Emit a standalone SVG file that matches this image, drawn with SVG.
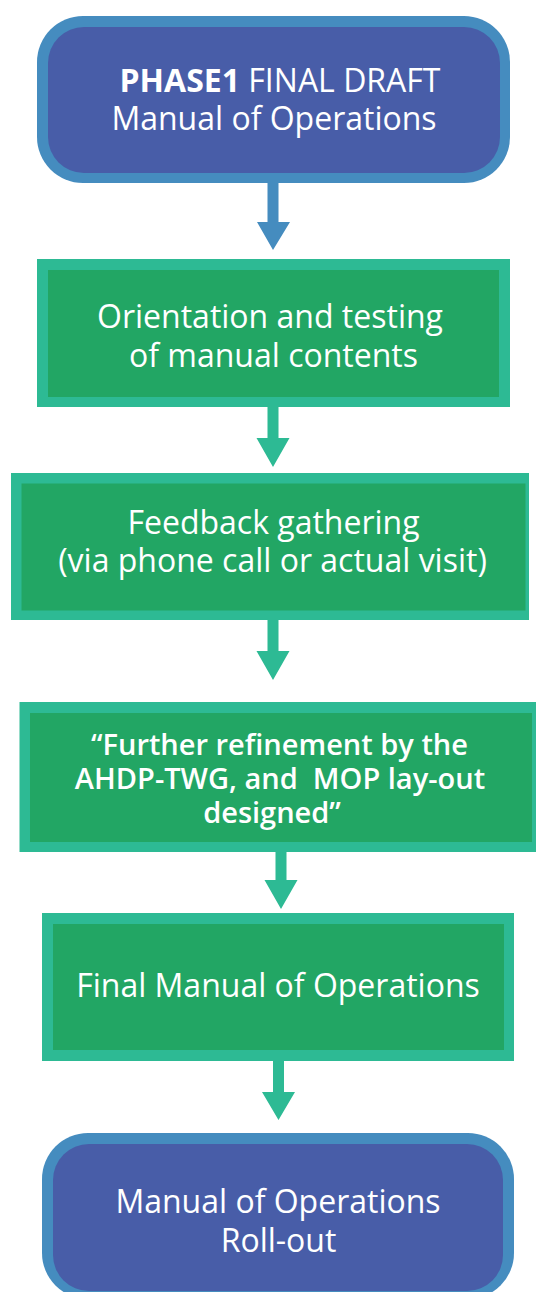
<svg xmlns="http://www.w3.org/2000/svg" width="536" height="1292" viewBox="0 0 536 1292">
<style>
.bord-b{fill:#458CBF}
.fill-b{fill:#485DA8}
.bord-g{fill:#2DBA94}
.fill-g{fill:#22A664}
.t{font-family:"Open Sans","Noto Sans","Liberation Sans",sans-serif;font-size:32px;fill:#FFFFFF;text-anchor:middle}
.tb{font-family:"Open Sans","Noto Sans","Liberation Sans",sans-serif;font-size:29px;font-weight:600;fill:#FFFFFF;text-anchor:middle}
.ab{fill:#458CBF}
.ag{fill:#2DBA94}
</style>
<rect width="536" height="1292" fill="#FFFFFF"/>
<g id="connectors">
<path class="ab" d="M267.5 183 H278.5 V222 H290 L273 250 L257 222 H267.5 Z"/>
<path class="ag" d="M267.5 407 H278.5 V438 H289.5 L273 467 L256.5 438 H267.5 Z"/>
<path class="ag" d="M267.5 619 H278.5 V651 H289.5 L273 680 L256.5 651 H267.5 Z"/>
<path class="ag" d="M275.5 851 H286.5 V880 H297.5 L281 909 L264.5 880 H275.5 Z"/>
<path class="ag" d="M273 1061 H284 V1092 H295 L278.5 1120 L262 1092 H273 Z"/>
</g>
<g id="node1">
<rect class="bord-b" x="37" y="16" width="473" height="167" rx="46"/>
<rect class="fill-b" x="48" y="27" width="452" height="146" rx="36"/>
<text class="t" x="280" y="92"><tspan font-weight="bold">PHASE1</tspan> FINAL DRAFT</text>
<text class="t" x="274" y="130">Manual of Operations</text>
</g>
<g id="node2">
<rect class="bord-g" x="37" y="259" width="473" height="148"/>
<rect class="fill-g" x="48" y="270" width="451" height="127"/>
<text class="t" x="270" y="328">Orientation and testing</text>
<text class="t" x="273.5" y="367">of manual contents</text>
</g>
<g id="node3">
<rect class="bord-g" x="11" y="473" width="518" height="147"/>
<rect class="fill-g" x="21.5" y="483.5" width="504" height="127"/>
<text class="t" x="273.5" y="534">Feedback gathering</text>
<text class="t" x="272.5" y="572">(via phone call or actual visit)</text>
</g>
<g id="node4">
<rect class="bord-g" x="19.5" y="702" width="520" height="150"/>
<rect class="fill-g" x="30" y="713" width="502" height="129"/>
<text class="tb" x="279.5" y="755">“Further refinement by the</text>
<text class="tb" x="280" y="789" xml:space="preserve">AHDP-TWG, and  MOP lay-out</text>
<text class="tb" x="272" y="823">designed”</text>
</g>
<g id="node5">
<rect class="bord-g" x="42" y="913" width="472" height="148"/>
<rect class="fill-g" x="53" y="924" width="451" height="126"/>
<text class="t" x="278" y="997">Final Manual of Operations</text>
</g>
<g id="node6">
<rect class="bord-b" x="42" y="1133" width="472" height="166" rx="46"/>
<rect class="fill-b" x="53" y="1144" width="450" height="147" rx="36"/>
<text class="t" x="278" y="1213">Manual of Operations</text>
<text class="t" x="278.5" y="1252">Roll-out</text>
</g>
</svg>
